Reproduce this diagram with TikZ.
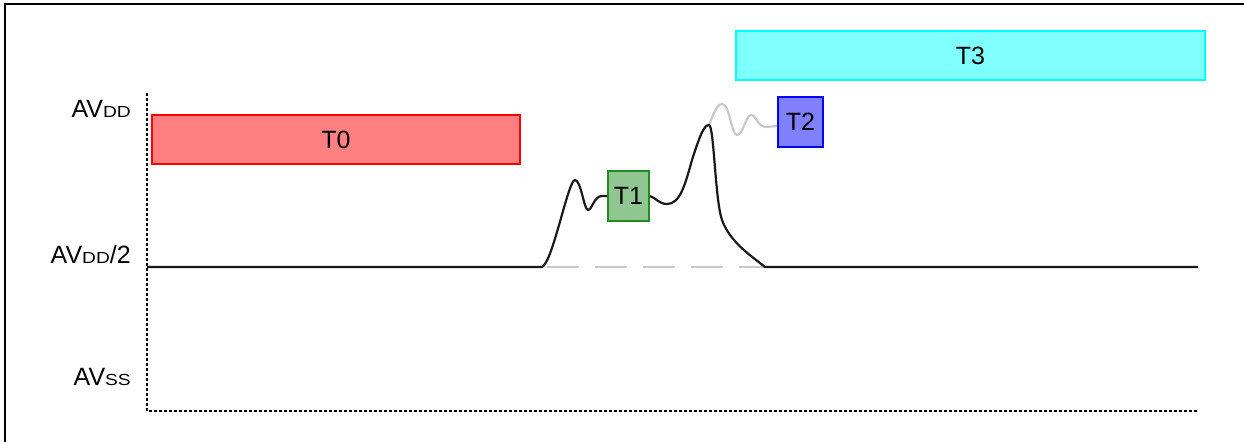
\documentclass[tikz,border=0pt]{standalone}
\usepackage{fontspec}
\setmainfont{Liberation Sans}
\definecolor{tzfill}{RGB}{255,128,128}
\definecolor{tofill}{RGB}{144,198,144}
\definecolor{todraw}{RGB}{34,139,34}
\definecolor{twfill}{RGB}{128,128,255}
\definecolor{thfill}{RGB}{128,255,255}
\definecolor{thdraw}{RGB}{0,255,255}
\definecolor{ghost}{RGB}{200,200,200}
\newcommand{\smc}[1]{\scalebox{1.2}[1]{\fontsize{16}{16}\selectfont #1}}
\tikzset{
  phase/.style={draw, line width=2pt, inner sep=0pt, font=\fontsize{25}{27}\selectfont},
  lvl/.style={anchor=base east, inner sep=0pt, font=\fontsize{25}{27}\selectfont},
  axis/.style={line width=2pt, dash pattern=on 3pt off 2pt},
  sig/.style={line width=2.2pt, black!90},
  ghostsig/.style={line width=2.2pt, ghost},
}
\begin{document}
\begin{tikzpicture}[x=1pt,y=-1pt]
\useasboundingbox (0,0) rectangle (1244,442);
\draw[line width=2.5pt] (5,442) -- (5,4) -- (1244,4);
% axes
\coordinate (axtop) at (147,93);
\coordinate (axorig) at (147,411);
\coordinate (axend) at (1198,411);
\draw[axis] (axtop) -- (axorig) -- (axend);
% level labels
\node[lvl] (avdd) at (131,117) {AV\smc{DD}};
\node[lvl] (avdd2) at (131,263) {AV\smc{DD}/2};
\node[lvl] (avss) at (131,385) {AV\smc{SS}};
% phase boxes
\node[phase, fill=tzfill, draw=red, minimum width=368pt, minimum height=49pt] (T0) at (336,139.5) {T0};
\node[phase, fill=tofill, draw=todraw, minimum width=41pt, minimum height=50pt] (T1) at (628.5,196) {T1};
\node[phase, fill=twfill, draw=blue, minimum width=45pt, minimum height=50pt] (T2) at (800.5,122) {T2};
\node[phase, fill=thfill, draw=thdraw, minimum width=469pt, minimum height=49pt] (T3) at (970.5,55.5) {T3};
% signal
\coordinate (s0) at (147,267);
\coordinate (s1) at (542,267);
\coordinate (pk) at (709,125);
\coordinate (s2) at (765,267);
\coordinate (s3) at (1198,267);
\draw[line width=2pt, ghost, dash pattern=on 32pt off 16pt, dash phase=-5pt] (s1) -- (s2);
\draw[ghostsig] (pk) .. controls (713,115) and (717,104) .. (722,104)
  .. controls (730,104) and (731,135) .. (737,135)
  .. controls (743,135) and (746,115) .. (751,115)
  .. controls (756,115) and (758,127) .. (766,127) -- ([yshift=-4pt]T2.west);
\draw[sig] (s0) -- (s1) .. controls (553,262) and (568,180) .. (575,180)
  .. controls (581,180) and (584,210) .. (588,210)
  .. controls (592,210) and (594,196) .. (602,196) -- (T1.west);
\draw[sig] (T1.east) .. controls (656,198) and (659,204) .. (667,204)
  .. controls (680,204) and (685,185) .. (692,160)
  .. controls (700,135) and (704,125) .. (pk)
  .. controls (714,125) and (715,200) .. (722,220)
  .. controls (730,242) and (750,255) .. (s2) -- (s3);
\end{tikzpicture}
\end{document}
